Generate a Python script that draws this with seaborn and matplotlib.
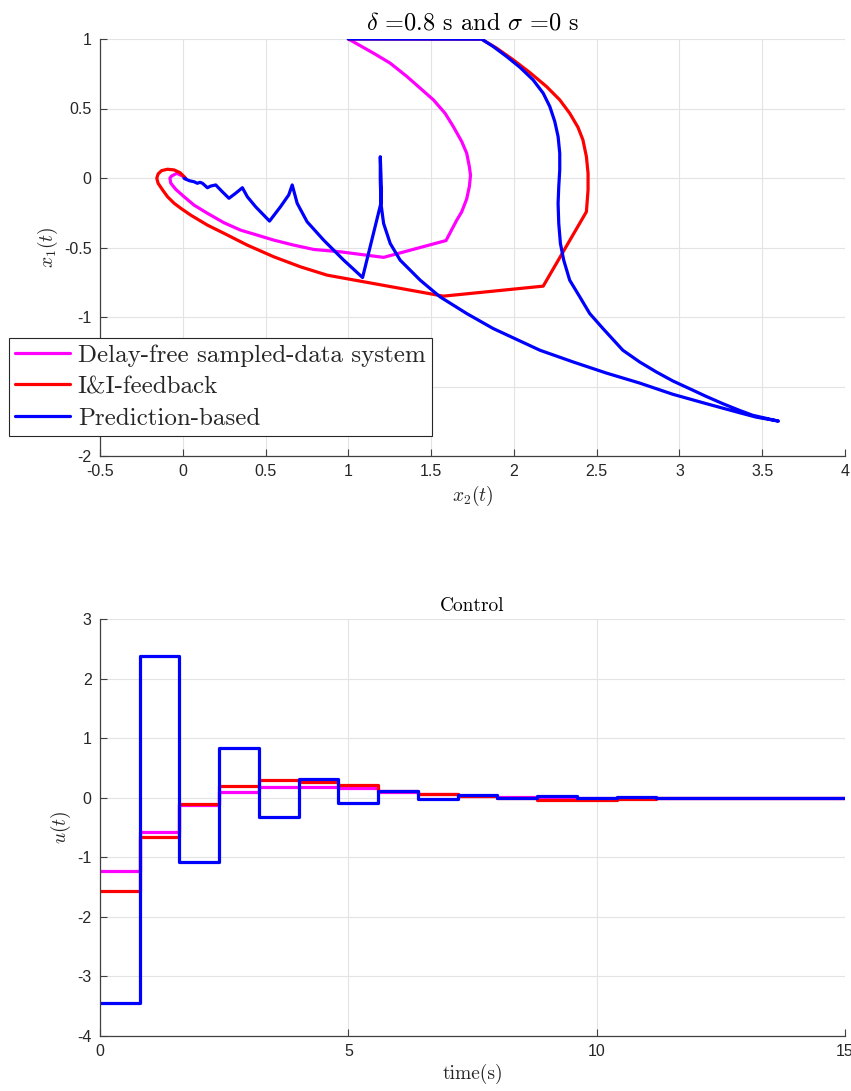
import numpy as np
import pandas as pd
import matplotlib
matplotlib.use("Agg")
import matplotlib.pyplot as plt
import seaborn as sns

# ---------------- phase-plane trajectories (x2 horizontal, x1 vertical) -------------
free_x2 = [1.002, 1.152, 1.253, 1.354, 1.434, 1.514, 1.584, 1.634, 1.685, 1.715,
           1.731, 1.738, 1.731, 1.715, 1.685, 1.655, 1.590, 1.213, 0.952, 0.791,
           0.671, 0.550, 0.450, 0.349, 0.249, 0.149, 0.068, 0.008, -0.042, -0.072,
           -0.078, -0.068, -0.036, -0.002, 0.018]
free_x1 = [0.999, 0.898, 0.826, 0.730, 0.646, 0.562, 0.466, 0.370, 0.262, 0.178,
           0.082, 0.020, -0.062, -0.150, -0.243, -0.303, -0.450, -0.571, -0.531, -0.514,
           -0.483, -0.447, -0.411, -0.375, -0.322, -0.254, -0.195, -0.135, -0.082, -0.038,
           -0.002, 0.014, 0.034, 0.014, -0.009]

ii_x2 = [1.0, 1.805, 1.896, 1.996, 2.096, 2.197, 2.277, 2.337, 2.387, 2.417,
         2.438, 2.448, 2.448, 2.438, 2.177, 1.574, 0.872, 0.711, 0.550, 0.390,
         0.249, 0.149, 0.048, -0.012, -0.052, -0.092, -0.122, -0.149, -0.157, -0.149,
         -0.128, -0.092, -0.052, -0.016, 0.018]
ii_x1 = [1.0, 0.999, 0.934, 0.850, 0.759, 0.658, 0.562, 0.466, 0.365, 0.274,
         0.154, 0.034, -0.086, -0.243, -0.778, -0.850, -0.699, -0.639, -0.567, -0.483,
         -0.398, -0.339, -0.267, -0.218, -0.182, -0.135, -0.086, -0.038, -0.002, 0.029,
         0.053, 0.063, 0.058, 0.038, -0.002]

pred_x2 = [1.0, 1.805, 1.875, 1.956, 2.036, 2.116, 2.177, 2.217, 2.247, 2.267,
           2.277, 2.277, 2.271, 2.267, 2.271, 2.281, 2.301, 2.337, 2.398, 2.458,
           2.538, 2.658, 2.759, 2.860, 2.960, 3.060, 3.161, 3.261, 3.361, 3.442,
           3.598, 3.462, 3.361, 3.161, 2.960, 2.759, 2.558, 2.357, 2.157, 1.875,
           1.715, 1.554, 1.434, 1.313, 1.253, 1.213, 1.197, 1.193, 1.193, 1.197,
           1.200, 1.197, 1.086, 0.972, 0.851, 0.751, 0.691, 0.661, 0.640, 0.590,
           0.524, 0.440, 0.390, 0.360, 0.319, 0.279, 0.239, 0.199, 0.169, 0.149,
           0.119, 0.104, 0.088, 0.068, 0.038, 0.008]
pred_x1 = [1.0, 0.999, 0.946, 0.874, 0.797, 0.706, 0.610, 0.514, 0.406, 0.298,
           0.178, 0.058, -0.062, -0.183, -0.327, -0.471, -0.591, -0.735, -0.855, -0.975,
           -1.083, -1.239, -1.323, -1.395, -1.460, -1.515, -1.571, -1.623, -1.671, -1.707,
           -1.749, -1.720, -1.688, -1.623, -1.556, -1.475, -1.403, -1.323, -1.239, -1.083,
           -0.975, -0.855, -0.735, -0.591, -0.471, -0.327, -0.183, -0.014, 0.153, 0.020,
           -0.100, -0.180, -0.716, -0.591, -0.447, -0.315, -0.182, -0.050, -0.122, -0.207,
           -0.310, -0.207, -0.135, -0.070, -0.110, -0.146, -0.099, -0.050, -0.058, -0.070,
           -0.038, -0.031, -0.038, -0.027, -0.019, -0.002]

# ---------------- sampled control inputs, held over each period -------------------
period = 0.8
t_end = 15.0
u_free = [-1.23, -0.57, -0.13, 0.09, 0.18, 0.18, 0.16, 0.10, 0.06, 0.03,
          0.01, 0.0, -0.01, 0.0, 0.0, 0.0, 0.0, 0.0, 0.0]
u_ii = [-1.56, -0.66, -0.10, 0.20, 0.30, 0.27, 0.21, 0.12, 0.07, 0.03,
        0.0, -0.03, -0.03, -0.02, 0.0, 0.0, 0.0, 0.0, 0.0]
u_pred = [-3.44, 2.38, -1.08, 0.84, -0.32, 0.31, -0.09, 0.11, -0.02, 0.05,
          -0.01, 0.03, 0.0, 0.01, 0.0, 0.0, 0.0, 0.0, 0.0]

labels = ["Delay-free sampled-data system", "I&I-feedback", "Prediction-based"]
colors = ["#ff00ff", "#ff0000", "#0000ff"]

sns.set_style("ticks")
plt.rcParams["font.family"] = ["Liberation Sans", "DejaVu Sans"]
plt.rcParams["mathtext.fontset"] = "cm"
plt.rcParams["axes.unicode_minus"] = False

TXT = "#262626"
GRID = "#e3e3e3"
LW = 2.3

fig = plt.figure(figsize=(8.51, 10.91), dpi=100)
ax1 = fig.add_axes([100 / 851, 1 - 456 / 1091, 745 / 851, 417 / 1091])
ax2 = fig.add_axes([100 / 851, 1 - 1036 / 1091, 745 / 851, 417 / 1091])


def style_axes(ax):
    ax.grid(True, color=GRID, lw=0.8)
    ax.set_axisbelow(True)
    for side in ("top", "right"):
        ax.spines[side].set_visible(False)
    for side in ("left", "bottom"):
        ax.spines[side].set_color("#404040")
        ax.spines[side].set_linewidth(0.9)
    ax.tick_params(direction="in", length=5, width=0.8, colors="#404040",
                   labelcolor=TXT, labelsize=11.5, pad=6)


# phase plane
for xs, ys, c, lab in zip([free_x2, ii_x2, pred_x2], [free_x1, ii_x1, pred_x1], colors, labels):
    sns.lineplot(x=xs, y=ys, sort=False, estimator=None, color=c, lw=LW,
                 label=lab, ax=ax1)
ax1.set_xlim(-0.5, 4)
ax1.set_ylim(-2, 1)
ax1.set_xticks(np.arange(-0.5, 4.01, 0.5))
ax1.set_yticks(np.arange(-2, 1.01, 0.5))
ax1.set_xticklabels(["-0.5", "0", "0.5", "1", "1.5", "2", "2.5", "3", "3.5", "4"])
ax1.set_yticklabels(["-2", "-1.5", "-1", "-0.5", "0", "0.5", "1"])
style_axes(ax1)
ax1.set_xlabel(r"$x_2(t)$", fontsize=14, color=TXT, labelpad=3)
ax1.set_ylabel(r"$x_1(t)$", fontsize=14, color=TXT, labelpad=3)
ax1.set_title(r"$\delta$ =0.8 s and $\sigma$ =0 s", fontfamily="cmr10",
              fontsize=17.5, color="black", pad=7)
leg = ax1.legend(loc="lower left", bbox_to_anchor=(9 / 851, 1 - 436 / 1091),
                 bbox_transform=fig.transFigure, borderaxespad=0,
                 prop={"family": "cmr10", "size": 18}, frameon=True, fancybox=False,
                 edgecolor="#262626", framealpha=1, handlelength=2.2,
                 handletextpad=0.3, labelspacing=0.36, borderpad=0.25)
leg.get_frame().set_linewidth(0.8)

# control signals
for u, c in zip([u_free, u_ii, u_pred], colors):
    t = np.append(np.arange(len(u)) * period, t_end)
    vals = np.append(u, u[-1])
    sns.lineplot(x=t, y=vals, sort=False, estimator=None, color=c, lw=LW,
                 drawstyle="steps-post", ax=ax2)
ax2.set_xlim(0, 15)
ax2.set_ylim(-4, 3)
ax2.set_xticks([0, 5, 10, 15])
ax2.set_yticks(range(-4, 4))
ax2.set_xticklabels(["0", "5", "10", "15"])
ax2.set_yticklabels([str(v) for v in range(-4, 4)])
style_axes(ax2)
ax2.set_xlabel("time(s)", fontfamily="cmr10", fontsize=14, color=TXT, labelpad=3)
ax2.set_ylabel(r"$u(t)$", fontsize=14, color=TXT, labelpad=3)
ax2.set_title("Control", fontfamily="cmr10", fontsize=14, color="black", pad=6)

fig.savefig("out.png", dpi=100)
